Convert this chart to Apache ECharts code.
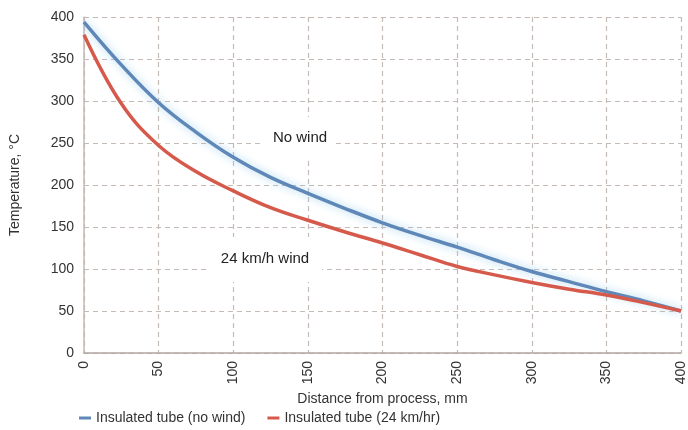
<!DOCTYPE html>
<html>
<head>
<meta charset="utf-8">
<script src="https://cdn.jsdelivr.net/npm/echarts@6/dist/echarts.min.js"></script>
<style>
  html, body { margin: 0; padding: 0; background: #fff; }
  #main { width: 688px; height: 430px; }
</style>
</head>
<body>
<div id="main"></div>
<script>
// distance from process, mm
var distance = [0, 25, 50, 75, 100, 125, 150, 175, 200, 225, 250, 275, 300, 325, 350, 375, 400];
// temperature, °C
var noWind = [394, 343, 298, 263, 233, 209, 190, 172, 155, 140, 126, 111, 97, 85, 73, 62, 50];
var wind24 = [379, 297, 247, 216, 193, 173, 158, 144, 131, 117, 103, 93, 84, 76, 69, 60, 50];
var xTicks = [0, 50, 100, 150, 200, 250, 300, 350, 400];
var yTicks = [0, 50, 100, 150, 200, 250, 300, 350, 400];

var font = "'Liberation Sans Narrow', 'Arial Narrow', 'Liberation Sans', Arial, sans-serif";

function pairs(xs, ys) {
    return xs.map(function (x, i) { return [x, ys[i]]; });
}

var myChart = echarts.init(document.getElementById('main'));
myChart.setOption({
    animation: false,
    grid: { left: 81, right: 5, top: 17, bottom: 77 },
    legend: {
        left: 74,
        bottom: 0,
        itemWidth: 12,
        itemHeight: 3,
        itemGap: 22,
        icon: 'rect',
        textStyle: { fontFamily: font, fontSize: 14, color: '#333' },
        data: ['Insulated tube (no wind)', 'Insulated tube (24 km/hr)']
    },
    xAxis: {
        type: 'value',
        min: xTicks[0],
        max: xTicks[xTicks.length - 1],
        interval: 50,
        name: 'Distance from process, mm',
        nameLocation: 'middle',
        nameGap: 38,
        nameTextStyle: { fontFamily: font, fontSize: 14, color: '#333' },
        axisLine: { show: true, lineStyle: { color: '#b3a6a3', width: 1.5 } },
        axisTick: { show: false },
        axisLabel: { rotate: 90, fontFamily: font, fontSize: 14, color: '#333', margin: 8 },
        splitLine: { show: true, lineStyle: { color: '#c6bab5', type: [5, 4], width: 1.2 } }
    },
    yAxis: {
        type: 'value',
        min: yTicks[0],
        max: yTicks[yTicks.length - 1],
        interval: 50,
        name: 'Temperature, °C',
        nameLocation: 'middle',
        nameGap: 62,
        nameTextStyle: { fontFamily: font, fontSize: 14, color: '#333' },
        axisLine: { show: true, lineStyle: { color: '#c6bab5', width: 1.5 } },
        axisTick: { show: false },
        axisLabel: { fontFamily: font, fontSize: 14, color: '#333', margin: 10 },
        splitLine: { show: true, lineStyle: { color: '#c6bab5', type: [5, 4], width: 1.2 } }
    },
    series: [
        {
            name: 'Insulated tube (no wind)',
            type: 'line',
            smooth: 0.4,
            symbol: 'none',
            color: '#5f88b8',
            lineStyle: { width: 3.5, color: '#5f88b8', shadowColor: 'rgba(140,200,235,0.8)', shadowBlur: 8 },
            data: pairs(distance, noWind)
        },
        {
            name: 'Insulated tube (24 km/hr)',
            type: 'line',
            smooth: 0.4,
            symbol: 'none',
            color: '#d65a4c',
            lineStyle: { width: 3.5, color: '#d65a4c' },
            data: pairs(distance, wind24)
        }
    ],
    graphic: [
        {
            type: 'rect',
            shape: { x: 262, y: 117, width: 73, height: 43 },
            style: { fill: '#fff' },
            z: 100
        },
        {
            type: 'text',
            x: 300, y: 138,
            style: { text: 'No wind', fontFamily: font, fontSize: 15, fill: '#222', align: 'center', verticalAlign: 'middle' },
            z: 101
        },
        {
            type: 'rect',
            shape: { x: 210, y: 237, width: 112, height: 45 },
            style: { fill: '#fff' },
            z: 100
        },
        {
            type: 'text',
            x: 265, y: 259,
            style: { text: '24 km/h wind', fontFamily: font, fontSize: 15, fill: '#222', align: 'center', verticalAlign: 'middle' },
            z: 101
        }
    ]
});
</script>
</body>
</html>
